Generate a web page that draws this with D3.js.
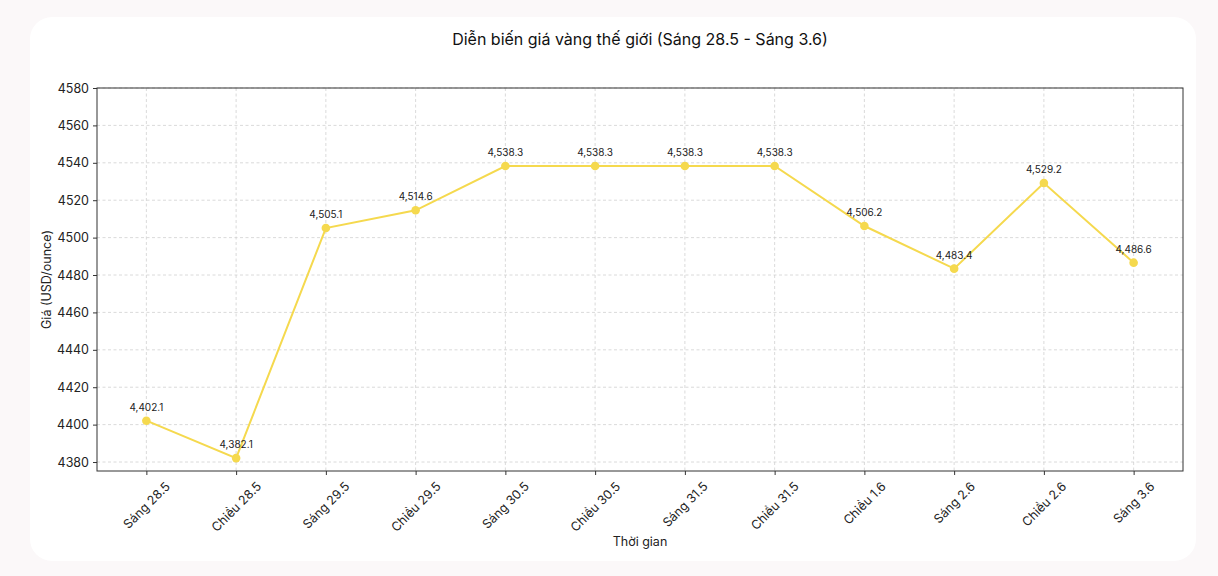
<!DOCTYPE html>
<html>
<head>
<meta charset="utf-8">
<script src="https://cdn.jsdelivr.net/npm/d3@7"></script>
<style>
  body { margin: 0; background: #fbf8f9; font-family: "Inter", "Noto Sans", sans-serif; }
  svg { display: block; }
</style>
</head>
<body>
<svg id="chart" width="1218" height="576"></svg>
<script>
  // nhãn thời gian và giá vàng (USD/ounce)
  const labels = ['Sáng 28.5', 'Chiều 28.5', 'Sáng 29.5', 'Chiều 29.5', 'Sáng 30.5', 'Chiều 30.5',
    'Sáng 31.5', 'Chiều 31.5', 'Chiều 1.6', 'Sáng 2.6', 'Chiều 2.6', 'Sáng 3.6'];
  const prices = [4402.1, 4382.1, 4505.1, 4514.6, 4538.3, 4538.3, 4538.3, 4538.3, 4506.2, 4483.4, 4529.2, 4486.6];
  const yTicks = [4380, 4400, 4420, 4440, 4460, 4480, 4500, 4520, 4540, 4560, 4580];

  const svg = d3.select('#chart');
  const LINE_COLOR = '#f5d94e';

  // card
  svg.append('rect')
    .attr('x', 30).attr('y', 17).attr('width', 1166).attr('height', 544)
    .attr('rx', 22).attr('fill', '#ffffff');

  const margin = { left: 97, right: 1183, top: 88, bottom: 471 };

  const x = d3.scaleLinear()
    .domain([-0.55, labels.length - 1 + 0.55])
    .range([margin.left, margin.right]);
  const y = d3.scaleLinear()
    .domain([4375.2, 4580])
    .range([margin.bottom, margin.top]);

  // grid
  const grid = svg.append('g');
  grid.selectAll('line.gy').data(yTicks).enter().append('line')
    .attr('x1', margin.left).attr('x2', margin.right)
    .attr('y1', d => y(d)).attr('y2', d => y(d))
    .attr('stroke', '#d0d0d0').attr('stroke-width', 0.8).attr('stroke-dasharray', '3,2.5');
  grid.selectAll('line.gx').data(labels).enter().append('line')
    .attr('x1', (d, i) => x(i)).attr('x2', (d, i) => x(i))
    .attr('y1', margin.top).attr('y2', margin.bottom)
    .attr('stroke', '#d0d0d0').attr('stroke-width', 0.8).attr('stroke-dasharray', '3,2.5');

  // axes
  const yAxis = svg.append('g')
    .attr('transform', `translate(${margin.left},0)`)
    .call(d3.axisLeft(y).tickValues(yTicks).tickFormat(d3.format('d')).tickSize(4).tickPadding(4));
  const xAxis = svg.append('g')
    .attr('transform', `translate(0,${margin.bottom})`)
    .call(d3.axisBottom(x).tickValues(d3.range(labels.length)).tickFormat(i => labels[i]).tickSize(4).tickPadding(4));

  [yAxis, xAxis].forEach(a => {
    a.select('.domain').remove();
    a.selectAll('.tick line').attr('stroke', '#333');
    a.selectAll('text').attr('fill', '#222').style('font-size', '12.5px').style('font-family', 'Inter, sans-serif');
  });
  // nhãn xoay 45°, căn giữa dưới vạch chia
  xAxis.selectAll('.tick text')
    .attr('text-anchor', 'middle')
    .attr('y', 0).attr('dy', '0.32em')
    .attr('transform', function () {
      const w = this.getComputedTextLength();
      const h = 12.5;
      const half = (w + h) * Math.SQRT1_2 / 2;
      return `translate(0,${9 + half}) rotate(-45)`;
    });

  // plot frame
  svg.append('rect')
    .attr('x', margin.left).attr('y', margin.top)
    .attr('width', margin.right - margin.left).attr('height', margin.bottom - margin.top)
    .attr('fill', 'none').attr('stroke', '#333').attr('stroke-width', 1);

  // line + points
  const line = d3.line().x((d, i) => x(i)).y(d => y(d));
  svg.append('path').datum(prices)
    .attr('d', line).attr('fill', 'none')
    .attr('stroke', LINE_COLOR).attr('stroke-width', 2);
  svg.selectAll('circle.pt').data(prices).enter().append('circle')
    .attr('cx', (d, i) => x(i)).attr('cy', d => y(d)).attr('r', 4.3)
    .attr('fill', LINE_COLOR);

  svg.selectAll('text.val').data(prices).enter().append('text')
    .attr('x', (d, i) => x(i)).attr('y', d => y(d) - 10)
    .attr('text-anchor', 'middle')
    .style('font-size', '10px').attr('fill', '#222')
    .text(d => d3.format(',.1f')(d));

  // titles
  svg.append('text')
    .attr('x', 640).attr('y', 45).attr('text-anchor', 'middle')
    .style('font-size', '16px').attr('fill', '#111')
    .text('Diễn biến giá vàng thế giới (Sáng 28.5 - Sáng 3.6)');
  svg.append('text')
    .attr('x', 640).attr('y', 546).attr('text-anchor', 'middle')
    .style('font-size', '12.5px').attr('fill', '#222')
    .text('Thời gian');
  svg.append('text')
    .attr('transform', `translate(51,${(margin.top + margin.bottom) / 2}) rotate(-90)`)
    .attr('text-anchor', 'middle')
    .style('font-size', '12.5px').attr('fill', '#222')
    .text('Giá (USD/ounce)');
</script>
</body>
</html>
